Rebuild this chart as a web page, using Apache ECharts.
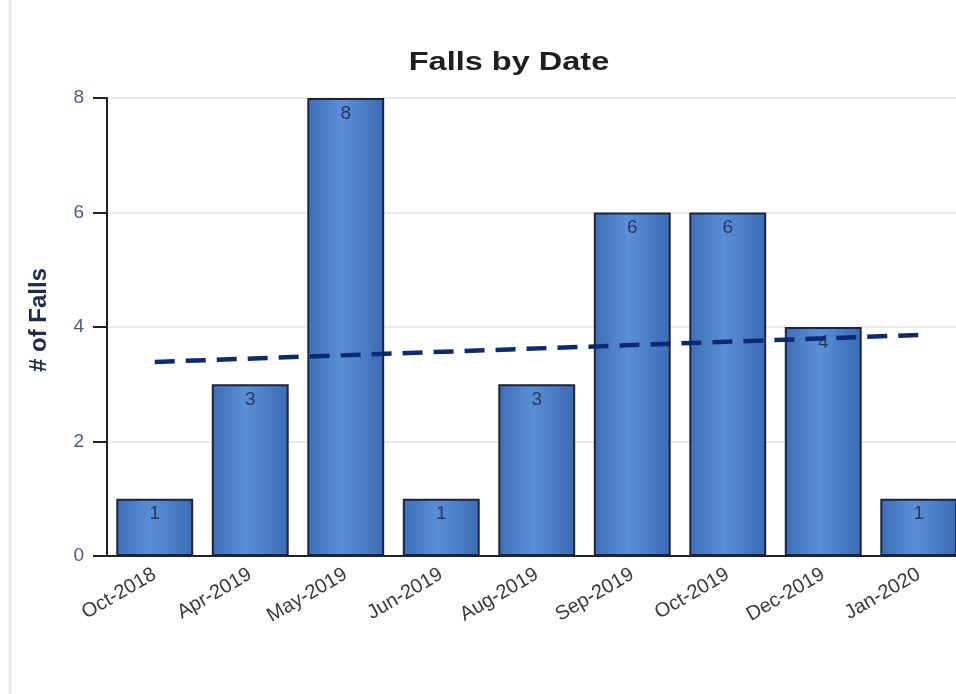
<!DOCTYPE html>
<html>
<head>
<meta charset="utf-8">
<script src="https://cdn.jsdelivr.net/npm/echarts@6/dist/echarts.min.js"></script>
<style>
  html, body { margin: 0; padding: 0; background: #ffffff; overflow: hidden; }
  #chart { width: 972px; height: 694px; }
</style>
</head>
<body>
<div id="chart"></div>
<script>
// Monthly fall counts
const months = ['Oct-2018', 'Apr-2019', 'May-2019', 'Jun-2019', 'Aug-2019', 'Sep-2019', 'Oct-2019', 'Dec-2019', 'Jan-2020'];
const falls = [1, 3, 8, 1, 3, 6, 6, 4, 1];

// Trend line end points (first and last month)
const trendMonths = ['Oct-2018', 'Jan-2020'];
const trendValues = [3.39, 3.86];

// Y axis ticks
const yTicks = [0, 2, 4, 6, 8];

const chart = echarts.init(document.getElementById('chart'), null, { renderer: 'canvas' });

const barFill = new echarts.graphic.LinearGradient(0, 0, 1, 0, [
  { offset: 0, color: '#3d6fb8' },
  { offset: 0.45, color: '#5a8fd8' },
  { offset: 1, color: '#3a6cb5' }
]);

const FONT = 'Liberation Sans, Arial, sans-serif';

chart.setOption({
  backgroundColor: '#ffffff',
  animation: false,
  grid: { left: 107, top: 98, width: 859.5, bottom: 138, containLabel: false },
  xAxis: {
    type: 'category',
    data: months,
    axisLine: { lineStyle: { color: '#222', width: 2 } },
    axisTick: { alignWithLabel: true, length: 9, lineStyle: { color: '#222', width: 2 } },
    axisLabel: {
      rotate: 30,
      margin: 17,
      interval: 0,
      fontFamily: FONT,
      fontSize: 20,
      color: '#3a3a3a'
    }
  },
  yAxis: {
    type: 'value',
    min: yTicks[0],
    max: yTicks[yTicks.length - 1],
    interval: 2,
    name: '# of Falls',
    nameLocation: 'middle',
    nameGap: 56,
    nameRotate: 90,
    nameTextStyle: { fontFamily: FONT, fontSize: 24, fontWeight: 'bold', color: '#1f2d4d', padding: [0, 0, 0, 14] },
    axisLine: { show: true, lineStyle: { color: '#222', width: 2 } },
    axisTick: { show: true, length: 14, lineStyle: { color: '#222', width: 2 } },
    axisLabel: {
      margin: 23,
      fontFamily: FONT,
      fontSize: 19,
      color: '#4a5a8c'
    },
    splitLine: { show: true, lineStyle: { color: '#e4e4e4', width: 1.5 } }
  },
  series: [
    {
      type: 'bar',
      data: falls,
      barCategoryGap: '19.5%',
      itemStyle: { color: barFill, borderColor: '#1b2438', borderWidth: 2 },
      label: {
        show: true,
        position: 'insideTop',
        distance: 6,
        fontFamily: FONT,
        fontSize: 19,
        color: '#2c3858'
      },
      z: 2
    },
    {
      type: 'line',
      data: trendMonths.map((m, i) => [m, trendValues[i]]),
      symbol: 'none',
      lineStyle: { color: '#0c2a72', width: 4.5, type: [20, 11] },
      z: 3
    }
  ],
  graphic: [
    {
      type: 'line',
      shape: { x1: 10, y1: 0, x2: 10, y2: 694 },
      style: { stroke: '#ececec', lineWidth: 3 }
    },
    {
      // chart title, drawn slightly widened
      type: 'text',
      x: 509,
      y: 63,
      scaleX: 1.3,
      style: {
        text: 'Falls by Date',
        font: 'bold 25px Liberation Sans, Arial, sans-serif',
        fill: '#1e1e1e',
        align: 'center',
        verticalAlign: 'middle'
      }
    }
  ]
});
</script>
</body>
</html>
